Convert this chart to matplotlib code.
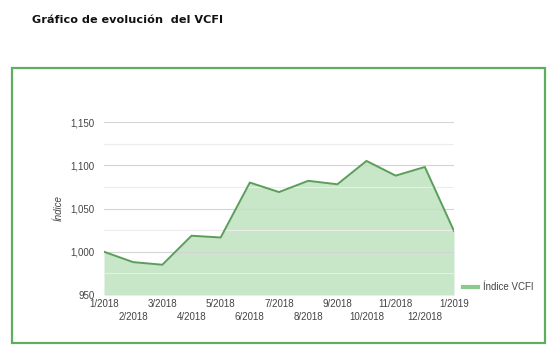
import matplotlib.pyplot as plt
from matplotlib.patches import Rectangle

months = ['1/2018', '2/2018', '3/2018', '4/2018', '5/2018', '6/2018', '7/2018',
          '8/2018', '9/2018', '10/2018', '11/2018', '12/2018', '1/2019']
vcfi = [1000, 988, 985, 1018.5, 1016.5, 1080, 1069, 1082, 1078, 1105, 1088, 1098, 1024]
yticks = [950, 1000, 1050, 1100, 1150]

lineColor = '#5b9e5b'
fillColor = '#c8e6c8'
borderColor = '#5fae5f'

fig = plt.figure(figsize=(5.6, 3.61), dpi=100)
fig.patch.set_facecolor('white')

fig.text(32 / 560, 1 - 20 / 361, 'Gráfico de evolución  del VCFI', fontsize=8.1,
         fontweight='bold', family='DejaVu Sans', va='center', ha='left', color='#111111')

fig.patches.append(Rectangle((12 / 560, 1 - 343 / 361), 533 / 560, 275 / 361,
                             transform=fig.transFigure, fill=False,
                             edgecolor=borderColor, linewidth=1.6))

ax = fig.add_axes([104 / 560, 1 - 295 / 361, 350 / 560, 173 / 361])
x = list(range(len(months)))
ax.fill_between(x, vcfi, 950, color=fillColor, linewidth=0)
ax.plot(x, vcfi, color=lineColor, linewidth=1.4, label='Índice VCFI')

ax.set_xlim(0, len(months) - 1)
ax.set_ylim(950, 1150)
ax.set_yticks(yticks)
ax.set_yticklabels([f'{v:,}' for v in yticks])
ax.set_yticks([975, 1025, 1075, 1125], minor=True)
ax.grid(True, which='major', axis='y', color='#d4d4d4', linewidth=0.8)
ax.grid(True, which='minor', axis='y', color='#ececec', linewidth=0.8)
for s in ax.spines.values():
    s.set_visible(False)

# alternate month labels on two rows
ax.set_xticks(x[::2])
ax.set_xticklabels(months[::2])
ax.set_xticks(x[1::2], minor=True)
ax.set_xticklabels(months[1::2], minor=True)
ax.tick_params(axis='both', which='both', length=0, labelsize=7, labelcolor='#444444')
ax.tick_params(axis='x', which='major', pad=3)
ax.tick_params(axis='x', which='minor', pad=12.5)
ax.tick_params(axis='y', pad=7)
for lbl in ax.get_xticklabels() + ax.get_xticklabels(minor=True) + ax.get_yticklabels():
    lbl.set_family('Liberation Sans')

ax.set_ylabel('Índice', fontsize=7, style='italic', color='#444444',
              family='Liberation Sans', labelpad=5)

ax.legend(loc='center left', bbox_to_anchor=(1.0, 0.045), frameon=False,
          handlelength=1.6, handletextpad=0.5,
          prop={'family': 'Liberation Sans', 'size': 7})
leg = ax.get_legend()
for t in leg.get_texts():
    t.set_color('#444444')
for h in leg.get_lines():
    h.set_linewidth(3)
    h.set_color('#8cc98c')

fig.savefig('out.png', dpi=100)
